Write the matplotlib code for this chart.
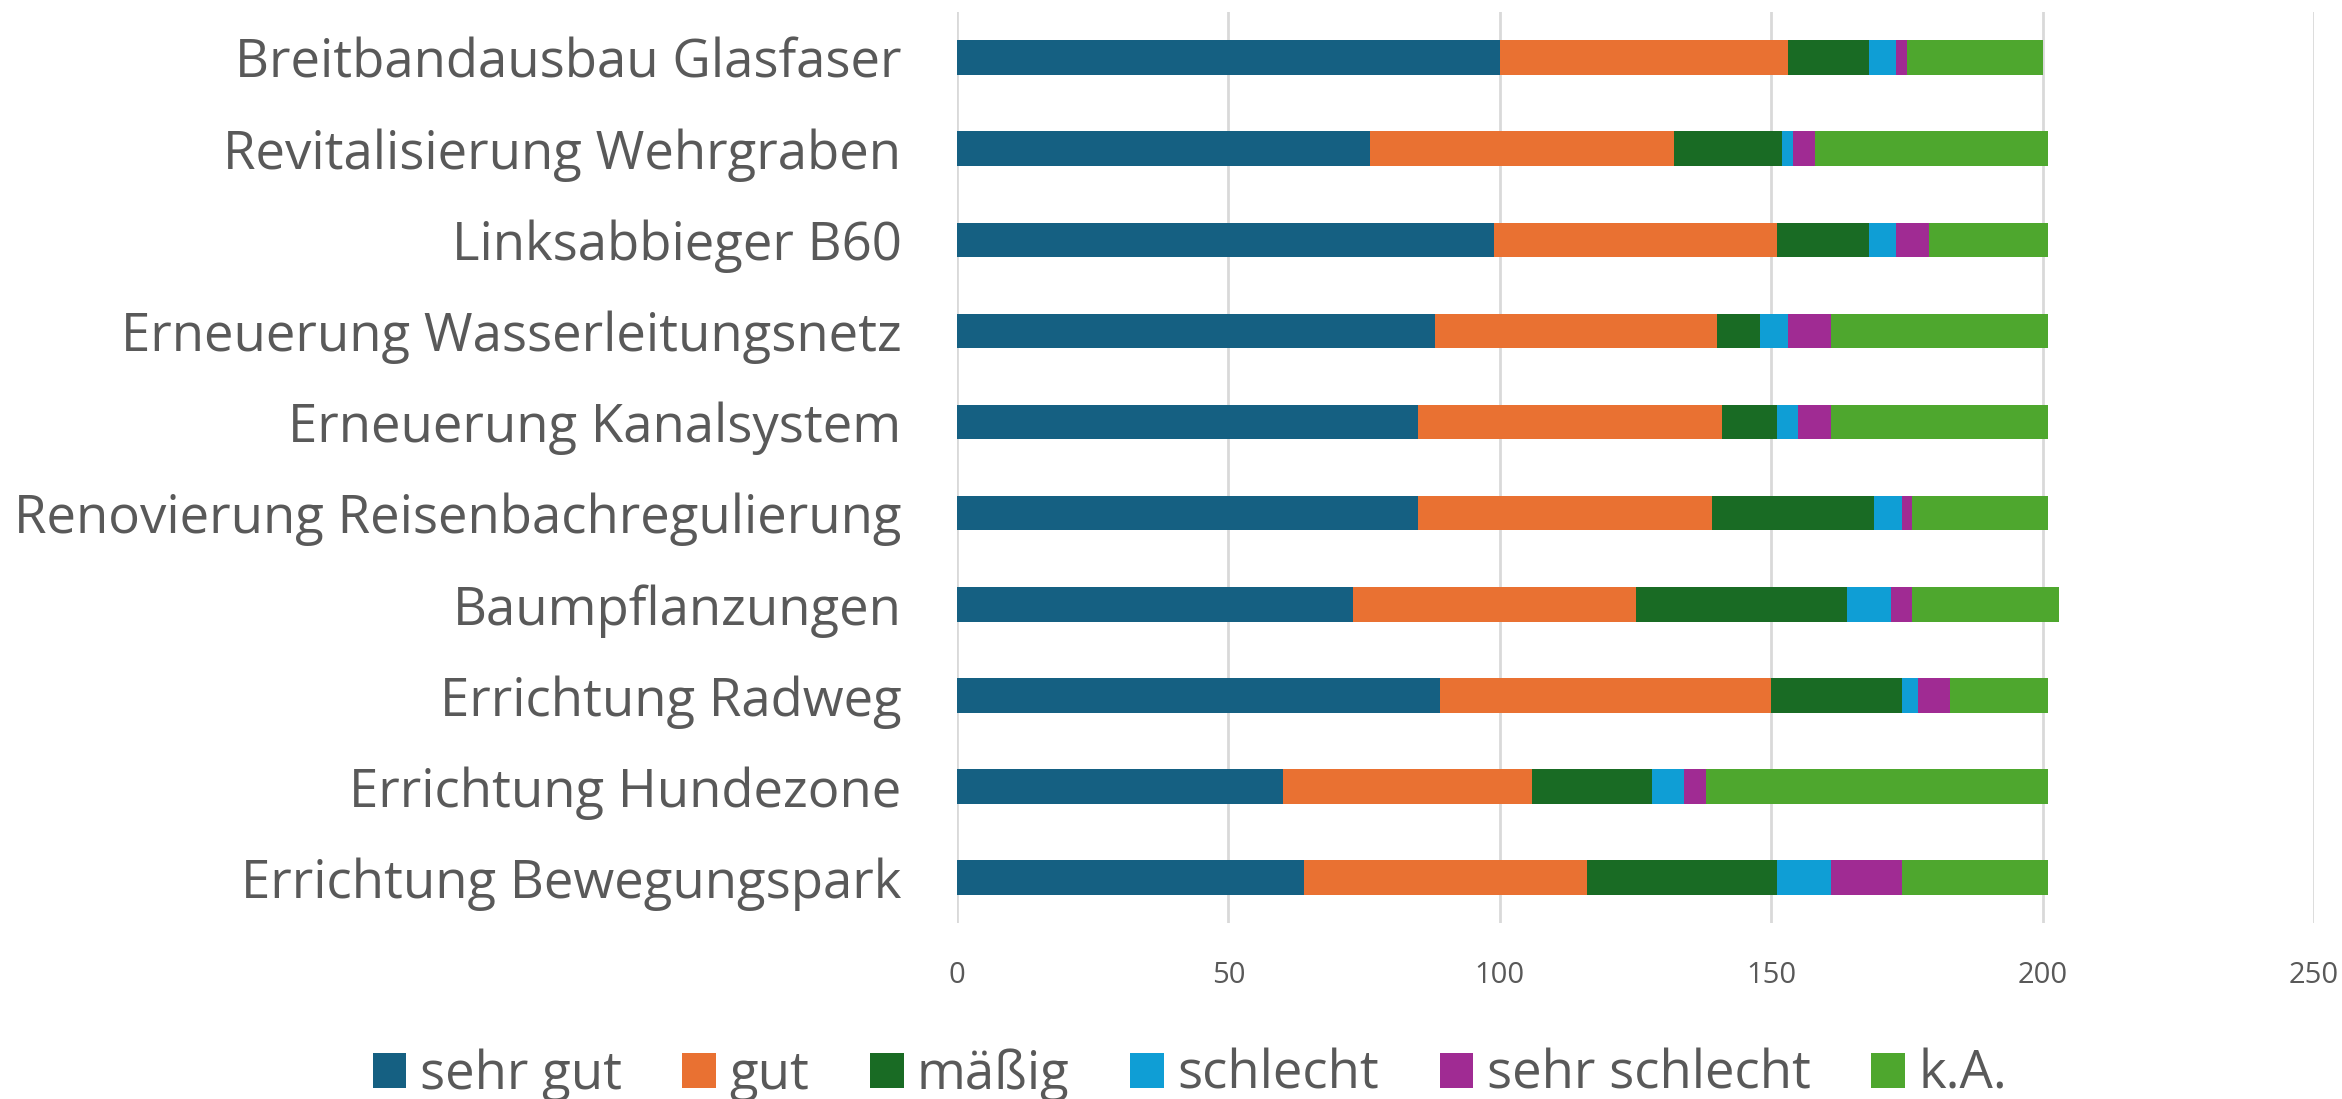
import matplotlib
matplotlib.use("Agg")
import matplotlib.pyplot as plt
import numpy as np
from matplotlib.patches import Patch

plt.rcParams.update({"figure.facecolor": "white", "axes.facecolor": "white",
                     "font.family": ["Open Sans", "DejaVu Sans"]})

projects = [
    "Breitbandausbau Glasfaser",
    "Revitalisierung Wehrgraben",
    "Linksabbieger B60",
    "Erneuerung Wasserleitungsnetz",
    "Erneuerung Kanalsystem",
    "Renovierung Reisenbachregulierung",
    "Baumpflanzungen",
    "Errichtung Radweg",
    "Errichtung Hundezone",
    "Errichtung Bewegungspark",
]
ratings = ["sehr gut", "gut", "mäßig", "schlecht", "sehr schlecht", "k.A."]
sehr_gut = [100, 76, 99, 88, 85, 85, 73, 89, 60, 64]
gut = [53, 56, 52, 52, 56, 54, 52, 61, 46, 52]
maessig = [15, 20, 17, 8, 10, 30, 39, 24, 22, 35]
schlecht = [5, 2, 5, 5, 4, 5, 8, 3, 6, 10]
sehr_schlecht = [2, 4, 6, 8, 6, 2, 4, 6, 4, 13]
k_a = [25, 43, 22, 40, 40, 25, 27, 18, 63, 27]
series = [sehr_gut, gut, maessig, schlecht, sehr_schlecht, k_a]
colors = ["#156082", "#E97132", "#196B24", "#0F9ED5", "#A02B93", "#4EA72E"]

TXT = "#595959"

fig = plt.figure(figsize=(23.42, 10.99), dpi=100)
ax = fig.add_axes([0.4086, 0.160, 0.5795, 0.829])

y = np.arange(len(projects))
left = np.zeros(len(projects))
for vals, col, lab in zip(series, colors, ratings):
    ax.barh(y, vals, left=left, height=0.38, color=col, label=lab, zorder=3)
    left += np.array(vals)

ax.set_ylim(len(projects) - 0.5, -0.5)
ax.set_xlim(0, 250)
ax.set_xticks(np.arange(0, 251, 50))
ax.set_yticks(y)
ax.set_yticklabels(projects, fontsize=38, color=TXT)
ax.tick_params(axis="y", length=0, pad=40)
ax.tick_params(axis="x", length=0, pad=27, labelsize=21, labelcolor=TXT)
ax.xaxis.grid(True, color="#d9d9d9", linewidth=2, zorder=0)
for s in ax.spines.values():
    s.set_visible(False)

handles = [Patch(facecolor=c, edgecolor="none") for c in colors]
fig.legend(handles, ratings, loc="center", bbox_to_anchor=(0.508, 0.022), ncol=6,
           frameon=False, fontsize=38, labelcolor=TXT, handlelength=0.64,
           handleheight=0.64, handletextpad=0.25, columnspacing=1.15)

fig.savefig("out.png", dpi=100)
